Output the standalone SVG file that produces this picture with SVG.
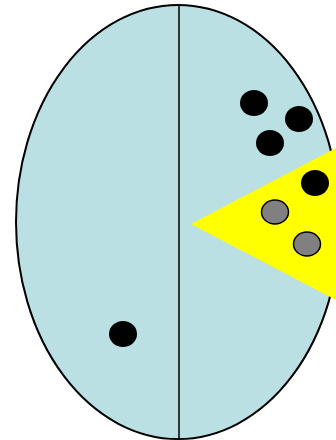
<svg xmlns="http://www.w3.org/2000/svg" width="336" height="440" viewBox="0 0 336 440">
<style>
.dot{fill:#000}
.gdot{fill:#808080;stroke:#000;stroke-width:1.5}
</style>
<g id="body">
<ellipse cx="178" cy="222" rx="162" ry="217" fill="#BBE0E3" stroke="#000" stroke-width="2"/>
<line x1="179" y1="5" x2="179" y2="439" stroke="#000" stroke-width="1.5"/>
</g>
<g id="wedge">
<polygon points="191,224 336,148 336,300" fill="#FFFF00"/>
</g>
<g id="dots">
<ellipse class="dot" cx="254" cy="103" rx="14" ry="13"/>
<ellipse class="dot" cx="299" cy="119" rx="14" ry="13"/>
<ellipse class="dot" cx="270" cy="143" rx="14" ry="13"/>
<ellipse class="dot" cx="315" cy="183" rx="14" ry="13"/>
<ellipse class="dot" cx="123" cy="334" rx="14" ry="13"/>
<ellipse class="gdot" cx="275" cy="212" rx="13.5" ry="12"/>
<ellipse class="gdot" cx="307" cy="244" rx="13.5" ry="12"/>
</g>
</svg>
